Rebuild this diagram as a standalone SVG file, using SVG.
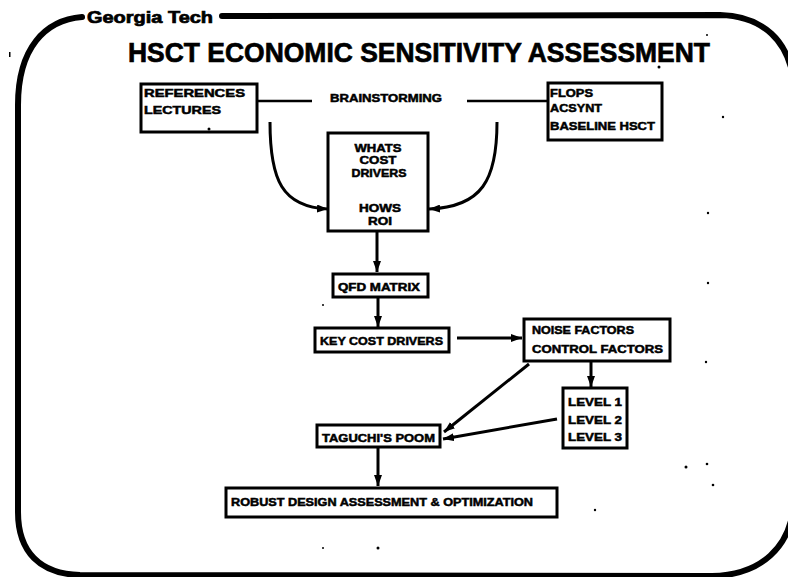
<svg xmlns="http://www.w3.org/2000/svg" width="788" height="577" viewBox="0 0 788 577">
  <defs>
    <marker id="arrow" markerUnits="userSpaceOnUse" markerWidth="11" markerHeight="8" refX="11" refY="4" orient="auto">
      <path d="M0,0 L11,4 L0,8 z" fill="#000"/>
    </marker>
    <style>
      .box { fill: #fff; stroke: #000; stroke-width: 3; }
      .lbl { font-family: "Liberation Sans", Arial, sans-serif; font-weight: bold; font-size: 11px; fill: #000; stroke: #000; stroke-width: 0.5; }
      .head { font-family: "Liberation Sans", Arial, sans-serif; font-weight: bold; fill: #000; stroke: #000; stroke-width: 0.7; }
      .mid { text-anchor: middle; }
      .link { fill: none; stroke: #000; stroke-width: 2.5; }
      .arr { fill: none; stroke: #000; stroke-width: 3; marker-end: url(#arrow); }
      .frame { fill: none; stroke: #000; stroke-width: 6; stroke-linecap: round; }
    </style>
  </defs>

  <rect width="788" height="577" fill="#fff"/>

  <!-- slide frame with rounded corners; the right side runs just past the page edge -->
  <path class="frame" d="M82,17 C45,20 18,48 18,105 L18,512 C18,552 40,574 80,575 L712,576 C760,575 792,548 794,500 L794,85 C790,40 762,16 720,15 L222,16"/>

  <!-- header -->
  <text class="head" x="87" y="23" font-size="16" textLength="126" lengthAdjust="spacingAndGlyphs">Georgia Tech</text>
  <text class="head" x="128" y="62" font-size="28" textLength="582" lengthAdjust="spacingAndGlyphs">HSCT ECONOMIC SENSITIVITY ASSESSMENT</text>

  <!-- connectors -->
  <g id="connectors">
    <line class="link" x1="257" y1="101" x2="312" y2="101"/>
    <line class="link" x1="467" y1="101" x2="548" y2="101"/>
    <path class="arr" d="M270,122 C270,180 282,207 328,209"/>
    <path class="arr" d="M497,122 C497,180 482,207 429,209"/>
    <line class="arr" x1="377" y1="232" x2="377" y2="272"/>
    <line class="arr" x1="378" y1="298" x2="378" y2="327"/>
    <line class="arr" x1="457" y1="338" x2="522" y2="338"/>
    <line class="arr" x1="591" y1="362" x2="591" y2="387"/>
    <line class="arr" x1="529" y1="364" x2="444" y2="432"/>
    <line class="arr" x1="557" y1="419" x2="443" y2="439"/>
    <line class="arr" x1="378" y1="448" x2="378" y2="486"/>
  </g>

  <g id="references">
    <rect class="box" x="141" y="84" width="116" height="48"/>
    <text class="lbl" x="144" y="97" textLength="101" lengthAdjust="spacingAndGlyphs">REFERENCES</text>
    <text class="lbl" x="144" y="114" textLength="77" lengthAdjust="spacingAndGlyphs">LECTURES</text>
  </g>

  <g id="brainstorming">
    <text class="lbl" x="330" y="102" textLength="112" lengthAdjust="spacingAndGlyphs">BRAINSTORMING</text>
  </g>

  <g id="tools">
    <rect class="box" x="548" y="83" width="114" height="57"/>
    <text class="lbl" x="550" y="97" textLength="43" lengthAdjust="spacingAndGlyphs">FLOPS</text>
    <text class="lbl" x="550" y="112" textLength="52" lengthAdjust="spacingAndGlyphs">ACSYNT</text>
    <text class="lbl" x="550" y="130" textLength="105" lengthAdjust="spacingAndGlyphs">BASELINE HSCT</text>
  </g>

  <g id="whats-hows">
    <rect class="box" x="328" y="133" width="100" height="98"/>
    <text class="lbl mid" x="378" y="152" textLength="47" lengthAdjust="spacingAndGlyphs">WHATS</text>
    <text class="lbl mid" x="378" y="164" textLength="37" lengthAdjust="spacingAndGlyphs">COST</text>
    <text class="lbl mid" x="379" y="177" textLength="55" lengthAdjust="spacingAndGlyphs">DRIVERS</text>
    <text class="lbl mid" x="380" y="212" textLength="42" lengthAdjust="spacingAndGlyphs">HOWS</text>
    <text class="lbl mid" x="380" y="225" textLength="24" lengthAdjust="spacingAndGlyphs">ROI</text>
  </g>

  <g id="qfd-matrix">
    <rect class="box" x="333" y="274" width="95" height="23"/>
    <text class="lbl" x="338" y="291" textLength="82" lengthAdjust="spacingAndGlyphs">QFD MATRIX</text>
  </g>

  <g id="key-cost-drivers">
    <rect class="box" x="315" y="328" width="134" height="24"/>
    <text class="lbl" x="320" y="345" textLength="123" lengthAdjust="spacingAndGlyphs">KEY COST DRIVERS</text>
  </g>

  <g id="factors">
    <rect class="box" x="524" y="319" width="146" height="42"/>
    <text class="lbl" x="532" y="334" textLength="102" lengthAdjust="spacingAndGlyphs">NOISE FACTORS</text>
    <text class="lbl" x="532" y="353" textLength="131" lengthAdjust="spacingAndGlyphs">CONTROL FACTORS</text>
  </g>

  <g id="levels">
    <rect class="box" x="563" y="388" width="64" height="60"/>
    <text class="lbl" x="568" y="406" textLength="54" lengthAdjust="spacingAndGlyphs">LEVEL 1</text>
    <text class="lbl" x="568" y="424" textLength="54" lengthAdjust="spacingAndGlyphs">LEVEL 2</text>
    <text class="lbl" x="568" y="441" textLength="54" lengthAdjust="spacingAndGlyphs">LEVEL 3</text>
  </g>

  <g id="taguchi">
    <rect class="box" x="317" y="425" width="123" height="22"/>
    <text class="lbl" x="322" y="442" textLength="113" lengthAdjust="spacingAndGlyphs">TAGUCHI'S POOM</text>
  </g>

  <g id="robust-design">
    <rect class="box" x="226" y="488" width="331" height="29"/>
    <text class="lbl" x="231" y="506" textLength="302" lengthAdjust="spacingAndGlyphs">ROBUST DESIGN ASSESSMENT &amp; OPTIMIZATION</text>
  </g>

  <!-- loose specks on the slide -->
  <g fill="#000">
    <circle cx="209" cy="129" r="1.5"/>
    <circle cx="659" cy="67" r="1.5"/>
    <circle cx="707" cy="35" r="1"/>
    <circle cx="723" cy="117" r="1.2"/>
    <circle cx="708" cy="213" r="1.2"/>
    <circle cx="708" cy="283" r="1.2"/>
    <circle cx="706" cy="362" r="1.2"/>
    <circle cx="686" cy="467" r="1.5"/>
    <circle cx="707" cy="464" r="1.3"/>
    <circle cx="713" cy="485" r="1.3"/>
    <circle cx="595" cy="510" r="1.2"/>
    <circle cx="323" cy="548" r="1"/>
    <circle cx="378" cy="548" r="1.5"/>
    <circle cx="323" cy="305" r="1"/>
    <rect x="9" y="52" width="1.5" height="5"/>
  </g>
</svg>
